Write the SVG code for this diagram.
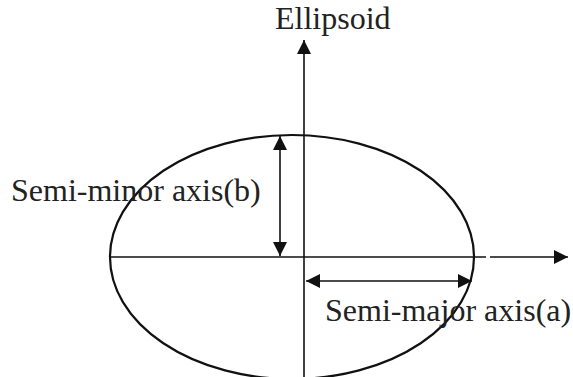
<svg xmlns="http://www.w3.org/2000/svg" width="573" height="377" viewBox="0 0 573 377">
<style>
.ln{stroke:#111;stroke-width:1.6;fill:none}
.el{stroke:#111;stroke-width:2.2;fill:none}
.tx{font-family:"Liberation Serif","Times New Roman",serif;font-size:32px;fill:#222}
</style>
<defs>
<marker id="ah" viewBox="0 0 14 14" markerWidth="14" markerHeight="14" refX="14" refY="7" orient="auto-start-reverse" markerUnits="userSpaceOnUse">
<path d="M0,0 L14,7 L0,14 z" fill="#111"/>
</marker>
</defs>
<g id="ellipsoid">
<ellipse class="el" cx="292" cy="257" rx="182" ry="122"/>
</g>
<g id="connectors">
<line class="ln" x1="304" y1="377" x2="304" y2="40" marker-end="url(#ah)"/>
<line class="ln" x1="110" y1="257" x2="486" y2="257"/>
<line class="ln" x1="490" y1="257" x2="568" y2="257" marker-end="url(#ah)"/>
<line class="ln" x1="280" y1="136" x2="280" y2="256" marker-start="url(#ah)" marker-end="url(#ah)"/>
<line class="ln" x1="306" y1="281" x2="472" y2="281" marker-start="url(#ah)" marker-end="url(#ah)"/>
</g>
<g id="label-ellipsoid"><text class="tx" x="275" y="29">Ellipsoid</text></g>
<g id="label-minor"><text class="tx" x="11" y="201">Semi-minor axis(b)</text></g>
<g id="label-major"><text class="tx" x="325" y="321">Semi-major axis(a)</text></g>
</svg>
